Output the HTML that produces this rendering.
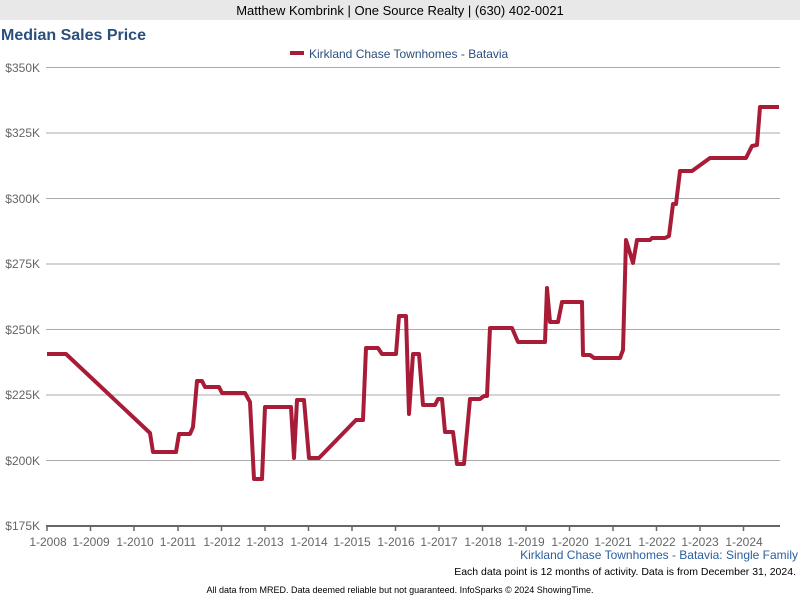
<!DOCTYPE html>
<html><head><meta charset="utf-8"><style>
body{margin:0;width:800px;height:600px;background:#fff;overflow:hidden;font-family:"Liberation Sans",Arial,sans-serif}
</style></head><body>
<svg width="800" height="600" xmlns="http://www.w3.org/2000/svg" font-family="Liberation Sans, Arial, sans-serif">
<rect x="0" y="0" width="800" height="20" fill="#e8e8e8"/>
<text x="400" y="15" font-size="13" text-anchor="middle" fill="#000">Matthew Kombrink | One Source Realty | (630) 402-0021</text>
<text x="1" y="40" font-size="16" font-weight="bold" fill="#2a4f7c">Median Sales Price</text>
<rect x="290" y="51" width="14" height="4" fill="#a81c38"/>
<text x="309" y="58" font-size="12" fill="#2a4f7c">Kirkland Chase Townhomes - Batavia</text>
<g stroke="#aaa" stroke-width="1">
<line x1="46" y1="67.5" x2="780" y2="67.5"/><line x1="46" y1="133" x2="780" y2="133"/>
<line x1="46" y1="198.5" x2="780" y2="198.5"/><line x1="46" y1="264" x2="780" y2="264"/>
<line x1="46" y1="329.5" x2="780" y2="329.5"/><line x1="46" y1="395" x2="780" y2="395"/>
<line x1="46" y1="460.5" x2="780" y2="460.5"/>
</g>
<line x1="46" y1="526" x2="780" y2="526" stroke="#666" stroke-width="2"/>
<g stroke="#666" stroke-width="1.5">
<line x1="47" y1="526" x2="47" y2="531"/><line x1="90.5" y1="526" x2="90.5" y2="531"/><line x1="134" y1="526" x2="134" y2="531"/><line x1="178" y1="526" x2="178" y2="531"/><line x1="221.5" y1="526" x2="221.5" y2="531"/><line x1="265" y1="526" x2="265" y2="531"/><line x1="308.5" y1="526" x2="308.5" y2="531"/><line x1="352" y1="526" x2="352" y2="531"/><line x1="395.5" y1="526" x2="395.5" y2="531"/><line x1="439" y1="526" x2="439" y2="531"/><line x1="482.5" y1="526" x2="482.5" y2="531"/><line x1="526" y1="526" x2="526" y2="531"/><line x1="569.5" y1="526" x2="569.5" y2="531"/><line x1="613" y1="526" x2="613" y2="531"/><line x1="656.5" y1="526" x2="656.5" y2="531"/><line x1="700" y1="526" x2="700" y2="531"/><line x1="743.5" y1="526" x2="743.5" y2="531"/>
</g>
<g font-size="12" fill="#666" text-anchor="end">
<text x="40" y="72">$350K</text><text x="40" y="137">$325K</text><text x="40" y="203">$300K</text><text x="40" y="268">$275K</text><text x="40" y="334">$250K</text><text x="40" y="399">$225K</text><text x="40" y="465">$200K</text><text x="40" y="530">$175K</text>
</g>
<g font-size="12" fill="#666" text-anchor="middle">
<text x="48" y="546">1-2008</text><text x="91" y="546">1-2009</text><text x="135" y="546">1-2010</text><text x="178" y="546">1-2011</text><text x="222" y="546">1-2012</text><text x="265" y="546">1-2013</text><text x="309" y="546">1-2014</text><text x="352" y="546">1-2015</text><text x="396" y="546">1-2016</text><text x="439" y="546">1-2017</text><text x="483" y="546">1-2018</text><text x="526" y="546">1-2019</text><text x="570" y="546">1-2020</text><text x="613" y="546">1-2021</text><text x="657" y="546">1-2022</text><text x="700" y="546">1-2023</text><text x="744" y="546">1-2024</text>
</g>
<text x="798" y="559" font-size="12" fill="#2a5f9e" text-anchor="end">Kirkland Chase Townhomes - Batavia: Single Family</text>
<text x="796" y="575" font-size="10.5" fill="#000" text-anchor="end">Each data point is 12 months of activity. Data is from December 31, 2024.</text>
<text x="400" y="593" font-size="9" fill="#000" text-anchor="middle">All data from MRED. Data deemed reliable but not guaranteed. InfoSparks © 2024 ShowingTime.</text>
<polyline fill="none" stroke="#a81c38" stroke-width="4" stroke-linejoin="round" points="47,354 66,354 150,433 153,452 176,452 179,434 190,434 193,427 197,381 202,381 205,387 219,387 222,393 245,393 250,402 254,479 262,479 265,407 291,407 294,458 297,400 304,400 309,458 319,458 356,420 363,420 366,348 378,348 382,354 396,354 399,316 406,316 409,414 413,354 419,354 423,405 435,405 438,399 442,399 445,432 453,432 457,464 464,464 470,399 480,399 484,396 487,396 490,328 512,328 518,342 545,342 547,288 550,322 558,322 562,302 582,302 583,355 590,355 594,358 620,358 623,350 626,240 633,263 637,240 650,240 652,238 665,238 669,236 673,204 676,204 680,171 692,171 710,158 746,158 752,146 757,145 760,107 779,107"/>
</svg>
</body></html>
